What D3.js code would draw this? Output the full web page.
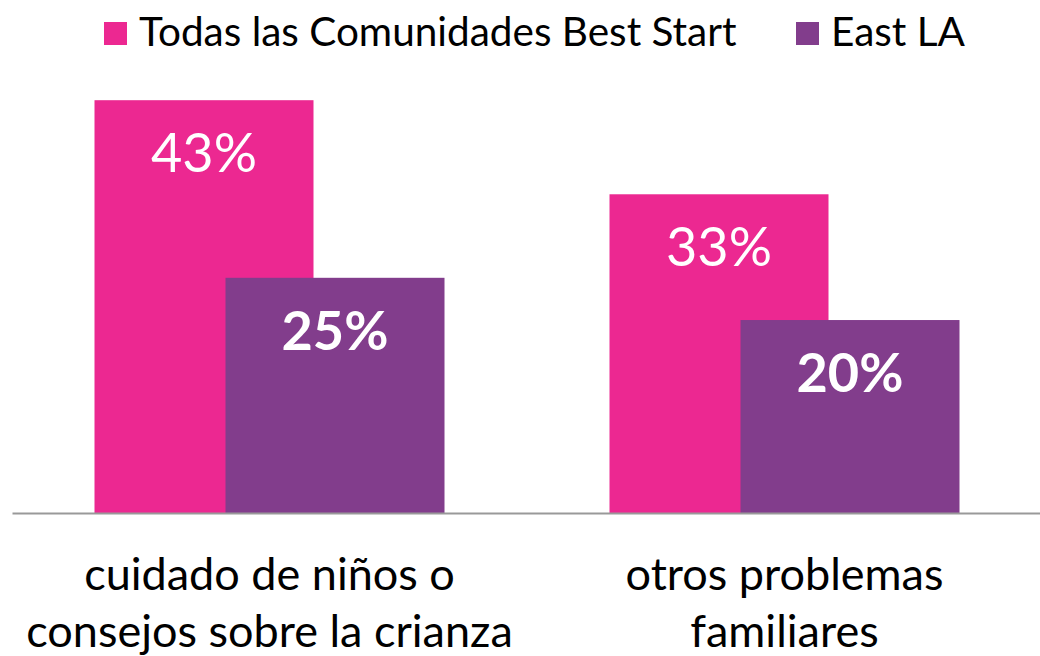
<!DOCTYPE html>
<html>
<head>
<meta charset="utf-8">
<script src="https://cdn.jsdelivr.net/npm/d3@7"></script>
<style>
  body { margin: 0; background: #fff; }
  svg text { font-family: Lato, "Open Sans", sans-serif; }
</style>
</head>
<body>
<div id="chart"></div>
<script>
// Chart data
const categories = ["cuidado de niños o consejos sobre la crianza", "otros problemas familiares"];
const categoryLines = [["cuidado de niños o", "consejos sobre la crianza"], ["otros problemas", "familiares"]];
const seriesNames = ["Todas las Comunidades Best Start", "East LA"];
const allCommunities = [43, 33.2];
const eastLA = [24.5, 20.1];
const colors = ["#EC2891", "#823D8C"];

const width = 1040, height = 656;
const baseline = 513;

const svg = d3.select("#chart")
    .append("svg")
    .attr("width", width)
    .attr("height", height);

const x = d3.scaleBand()
    .domain(categories)
    .range([12, 1042])
    .padding(0);

const y = d3.scaleLinear()
    .domain([0, 50])
    .range([baseline, baseline - 480]);

const series = [allCommunities, eastLA];
const groupWidth = 350, barWidth = 219;

function barX(cat, s) {
    const c = x(cat) + x.bandwidth() / 2;
    return c - groupWidth / 2 + s * (groupWidth - barWidth);
}

// Bars
series.forEach((vals, s) => {
    svg.selectAll(".bar-" + s)
        .data(vals)
        .enter().append("rect")
        .attr("class", "bar-" + s)
        .attr("x", (d, i) => barX(categories[i], s))
        .attr("width", barWidth)
        .attr("y", d => y(d))
        .attr("height", d => baseline - y(d))
        .attr("fill", colors[s]);
});

// Value labels
series.forEach((vals, s) => {
    svg.selectAll(".label-" + s)
        .data(vals)
        .enter().append("text")
        .attr("class", "label-" + s)
        .attr("x", (d, i) => barX(categories[i], s) + barWidth / 2)
        .attr("y", d => y(d) + 72)
        .attr("text-anchor", "middle")
        .attr("fill", "#fff")
        .attr("font-size", 54)
        .attr("font-weight", s === 1 ? "bold" : "normal")
        .text(d => Math.round(d) + "%");
});

// Axis
const axis = svg.append("g")
    .attr("transform", `translate(0,${baseline})`)
    .call(d3.axisBottom(x).tickSize(0).tickSizeOuter(0).tickFormat(""));
axis.select(".domain")
    .attr("stroke", "#999")
    .attr("stroke-width", 2);

axis.selectAll(".tick text").remove();
axis.selectAll(".tick").each(function(d, i) {
    const t = d3.select(this).append("text")
        .attr("text-anchor", "middle")
        .attr("fill", "#000")
        .attr("font-size", 45);
    categoryLines[i].forEach((line, j) => {
        t.append("tspan")
            .attr("x", 0)
            .attr("y", 77 + j * 57)
            .text(line);
    });
});

// Legend
const legendX = [104, 796];
const legend = svg.selectAll(".legend")
    .data(seriesNames)
    .enter().append("g")
    .attr("class", "legend")
    .attr("transform", (d, i) => `translate(${legendX[i]},22)`);

legend.append("rect")
    .attr("width", 23)
    .attr("height", 23)
    .attr("fill", (d, i) => colors[i]);

legend.append("text")
    .attr("x", 35)
    .attr("y", 24)
    .attr("fill", "#000")
    .attr("font-size", 40.5)
    .text(d => d);
</script>
</body>
</html>
